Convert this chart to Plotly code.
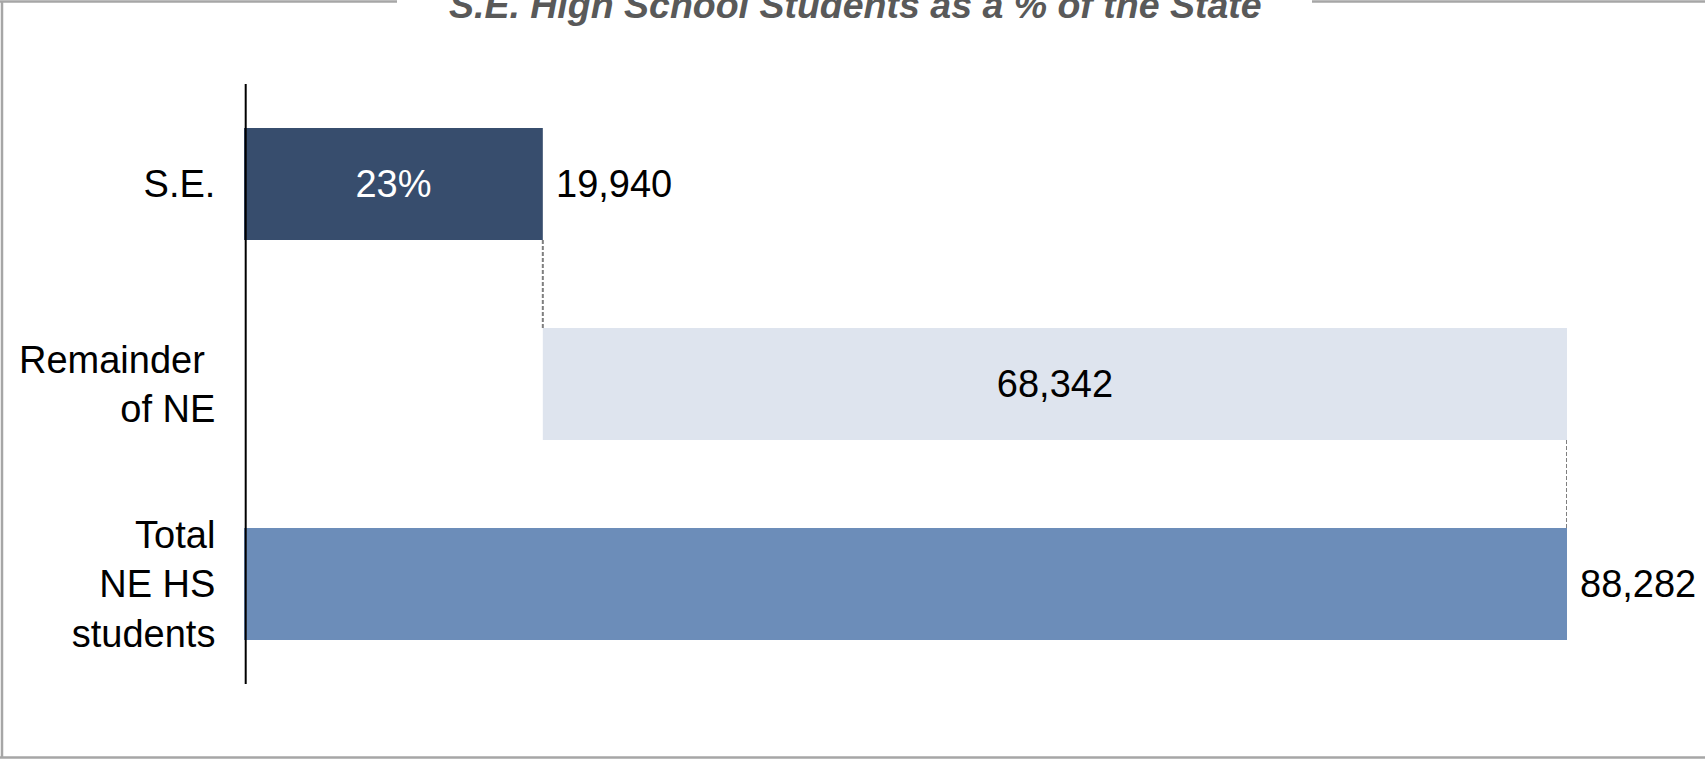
import plotly.graph_objects as go

categories = ["S.E.", "Remainder\u00a0<br>of NE", "Total<br>NE HS<br>students"]
values = [19940, 68342, 88282]
bases = [0, 19940, 0]
bar_colors = ["#374D6D", "#DEE4EE", "#6C8DB9"]
title_text = "S.E. High School Students as a % of the State"

share = round(100 * values[0] / values[2])
inside_text = [f"{share}%", f"{values[1]:,}", ""]
inside_colors = ["white", "black", "black"]

FONT = "Liberation Sans, Arial"
FS = 38

W, H = 1705, 759
L, R, T, B = 244, 138, 84, 75
PW, PH = W - L - R, H - T - B


def xp(px):
    return (px - L) / PW


def yp(py):
    return (H - B - py) / PH


fig = go.Figure()
fig.add_trace(go.Bar(
    y=categories, x=values, base=bases, orientation="h",
    marker=dict(color=bar_colors, line=dict(width=0)),
    text=inside_text, textposition="inside", insidetextanchor="middle",
    textangle=0, constraintext="none",
    textfont=dict(family=FONT, size=FS, color=inside_colors),
    hoverinfo="skip", width=0.56,
))

# outside value labels
for i in (0, 2):
    fig.add_annotation(x=bases[i] + values[i], y=categories[i], xref="x", yref="y",
                       text=f"{values[i]:,}", showarrow=False, xanchor="left",
                       xshift=11, font=dict(family=FONT, size=FS, color="black"))

# dashed connectors
dash_line = dict(color="#7F7F7F", width=2, dash="4px,2px")
fig.add_shape(type="line", xref="x", yref="y", x0=values[0], x1=values[0], y0=0.28, y1=0.72,
              line=dash_line)
fig.add_shape(type="line", xref="x", yref="y", x0=bases[1] + values[1], x1=bases[1] + values[1],
              y0=1.28, y1=1.72, line=dash_line)

# vertical axis line
fig.add_shape(type="line", xref="paper", yref="paper", x0=xp(245.7), x1=xp(245.7), y0=0, y1=1,
              line=dict(color="black", width=2))

# frame
frame = dict(color="#A6A6A6", width=2.5)
fig.add_shape(type="line", xref="paper", yref="paper", x0=xp(2), x1=xp(2), y0=yp(1.5), y1=yp(757.5), line=frame)
fig.add_shape(type="line", xref="paper", yref="paper", x0=xp(0), x1=xp(W), y0=yp(757.5), y1=yp(757.5), line=frame)
fig.add_shape(type="line", xref="paper", yref="paper", x0=xp(0), x1=xp(397), y0=yp(1.5), y1=yp(1.5), line=frame)
fig.add_shape(type="line", xref="paper", yref="paper", x0=xp(1312), x1=xp(W), y0=yp(1.5), y1=yp(1.5), line=frame)

# title
fig.add_annotation(x=xp(855), y=yp(28), xref="paper", yref="paper", text=f"<b><i>{title_text}</i></b>",
                   showarrow=False, xanchor="center", yanchor="bottom",
                   font=dict(family=FONT, size=37.5, color="#595959"))

fig.update_layout(
    width=W, height=H, margin=dict(l=L, r=R, t=T, b=B, autoexpand=False),
    paper_bgcolor="white", plot_bgcolor="white", showlegend=False,
    bargap=0.44,
    xaxis=dict(range=[0, values[2]], visible=False, showgrid=False, zeroline=False),
    yaxis=dict(categoryorder="array", categoryarray=categories, range=[2.5, -0.5],
               showgrid=False, zeroline=False, showline=False,
               ticks="outside", ticklen=20, tickcolor="rgba(0,0,0,0)",
               tickfont=dict(family=FONT, size=FS, color="black")),
)

fig.write_html("out.html")
